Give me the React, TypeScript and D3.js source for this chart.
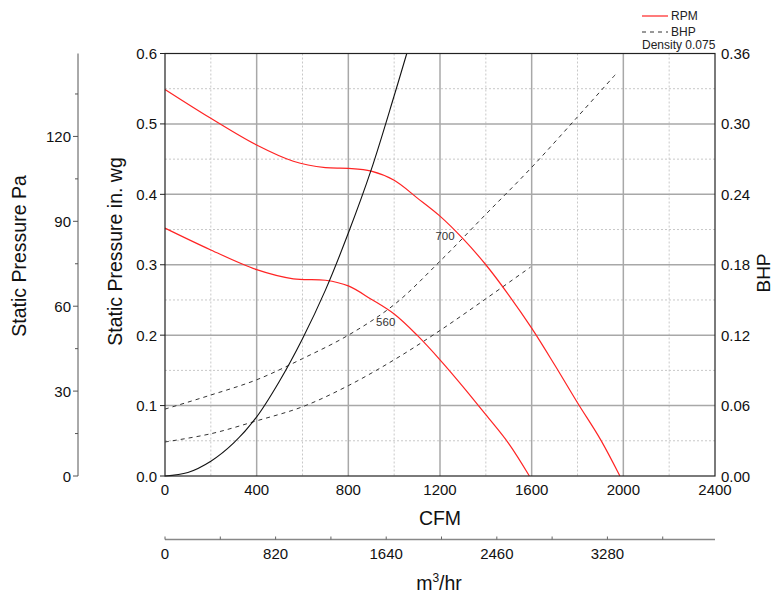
import React, { useEffect } from "react";
import * as d3 from "d3";

// ---------- data ----------
const cfmTicks = [0, 400, 800, 1200, 1600, 2000, 2400];
const cfmMinor = [200, 600, 1000, 1400, 1800, 2200];
const spTicks = [0, 0.1, 0.2, 0.3, 0.4, 0.5, 0.6];
const spMinor = [0.05, 0.15, 0.25, 0.35, 0.45, 0.55];
const bhpTicks = [0, 0.06, 0.12, 0.18, 0.24, 0.3, 0.36];
const paTicks = [0, 30, 60, 90, 120];
const paMinor = [15, 45, 75, 105, 135];
const m3hTicks = [0, 820, 1640, 2460, 3280];
const m3hMinor = [410, 1230, 2050, 2870, 3690];

// Static pressure curves (CFM, in. wg)
const rpm700: [number, number][] = [
  [0, 0.549], [200, 0.508], [400, 0.47], [560, 0.447], [700, 0.438], [800, 0.437],
  [900, 0.433], [1000, 0.42], [1100, 0.395], [1200, 0.369], [1300, 0.337],
  [1400, 0.3], [1500, 0.257], [1600, 0.21], [1700, 0.158], [1800, 0.104],
  [1900, 0.052], [1985, 0],
];
const rpm560: [number, number][] = [
  [0, 0.352], [200, 0.321], [400, 0.293], [560, 0.28], [700, 0.278], [800, 0.27],
  [900, 0.251], [1000, 0.23], [1100, 0.2], [1200, 0.165], [1300, 0.127],
  [1400, 0.087], [1500, 0.046], [1590, 0],
];
// Brake horsepower curves (CFM, BHP)
const bhp700: [number, number][] = [
  [0, 0.057], [200, 0.069], [400, 0.082], [600, 0.1], [800, 0.12], [1000, 0.146],
  [1200, 0.183], [1400, 0.223], [1600, 0.263], [1800, 0.306], [1965, 0.342],
];
const bhp560: [number, number][] = [
  [0, 0.029], [200, 0.036], [400, 0.047], [600, 0.059], [800, 0.077], [1000, 0.099],
  [1200, 0.124], [1400, 0.151], [1595, 0.178],
];
// System curve (CFM, in. wg)
const systemCurve: [number, number][] = [
  [0, 0], [100, 0.005], [200, 0.021], [300, 0.047], [400, 0.084], [500, 0.135],
  [600, 0.195], [700, 0.264], [800, 0.345], [900, 0.435], [1000, 0.54], [1055, 0.6],
];
const curveLabels = ["700", "560"];
const legendItems = ["RPM", "BHP"];
const densityText = "Density 0.075";

const FONT = "'Liberation Sans', Arial, sans-serif";

export default function App() {
  useEffect(() => {
    document.body.style.margin = "0";
  }, []);

  const L = 165, R = 715, T = 53.5, B = 476;
  const x = d3.scaleLinear().domain([0, 2400]).range([L, R]);
  const y = d3.scaleLinear().domain([0, 0.6]).range([B, T]);
  const yB = d3.scaleLinear().domain([0, 0.36]).range([B, T]);
  const yPa = d3.scaleLinear().domain([0, 0.6 * 248.84]).range([B, T]);
  const xM = d3.scaleLinear().domain([0, 2400 * 1.699]).range([L, R]);

  const smooth = d3.curveCatmullRom.alpha(0.5);
  const lineSP = d3.line<[number, number]>().x(d => x(d[0])).y(d => y(d[1])).curve(smooth);
  const lineB = d3.line<[number, number]>().x(d => x(d[0])).y(d => yB(d[1])).curve(smooth);

  const paX = 78;
  const mY = 539.5;

  return (
    <svg width={773} height={594} style={{ position: "absolute", left: 0, top: 0, background: "#fff" }}
      fontFamily={FONT}>
      <rect x={0} y={0} width={773} height={594} fill="#fff" />
      {/* minor grid */}
      {cfmMinor.map(v => (
        <line key={"vm" + v} x1={x(v)} x2={x(v)} y1={T} y2={B} stroke="#c8c8c8" strokeDasharray="2,2" />
      ))}
      {spMinor.map(v => (
        <line key={"hm" + v} x1={L} x2={R} y1={y(v)} y2={y(v)} stroke="#c8c8c8" strokeDasharray="2,2" />
      ))}
      {/* major grid */}
      {cfmTicks.slice(1, -1).map(v => (
        <line key={"vM" + v} x1={x(v)} x2={x(v)} y1={T} y2={B} stroke="#a8a8a8" strokeWidth={1.5} />
      ))}
      {spTicks.slice(1, -1).map(v => (
        <line key={"hM" + v} x1={L} x2={R} y1={y(v)} y2={y(v)} stroke="#a8a8a8" strokeWidth={1.5} />
      ))}

      {/* curves */}
      <path d={lineB(bhp700) || ""} fill="none" stroke="#333" strokeWidth={1} strokeDasharray="4,4" />
      <path d={lineB(bhp560) || ""} fill="none" stroke="#333" strokeWidth={1} strokeDasharray="4,4" />
      <path d={lineSP(rpm700) || ""} fill="none" stroke="#ff2424" strokeWidth={1.2} />
      <path d={lineSP(rpm560) || ""} fill="none" stroke="#ff2424" strokeWidth={1.2} />
      <path d={lineSP(systemCurve) || ""} fill="none" stroke="#111" strokeWidth={1.1} />

      {/* curve labels */}
      <text x={x(1222)} y={y(0.341)} fontSize={11.5} fill="#333" textAnchor="middle" dominantBaseline="central">{curveLabels[0]}</text>
      <text x={x(963)} y={y(0.219)} fontSize={11.5} fill="#333" textAnchor="middle" dominantBaseline="central">{curveLabels[1]}</text>

      {/* plot border */}
      <rect x={L} y={T} width={R - L} height={B - T} fill="none" stroke="#222" strokeWidth={1.2} />

      {/* left in.wg axis */}
      {spTicks.map(v => (
        <g key={"sp" + v}>
          <line x1={L - 5} x2={L} y1={y(v)} y2={y(v)} stroke="#222" />
          <text x={L - 8} y={y(v)} fontSize={15} textAnchor="end" dominantBaseline="central" fill="#111">{v.toFixed(1)}</text>
        </g>
      ))}
      {/* right BHP axis */}
      {bhpTicks.map(v => (
        <text key={"b" + v} x={R + 6} y={yB(v)} fontSize={15} textAnchor="start" dominantBaseline="central" fill="#111">{v.toFixed(2)}</text>
      ))}
      {/* bottom CFM axis */}
      {cfmTicks.map(v => (
        <text key={"c" + v} x={x(v)} y={489} fontSize={15} textAnchor="middle" dominantBaseline="central" fill="#111">{v}</text>
      ))}

      {/* Pa axis */}
      <line x1={paX} x2={paX} y1={T} y2={B} stroke="#555" strokeWidth={1} />
      {paTicks.map(v => (
        <g key={"pa" + v}>
          <line x1={paX - 5} x2={paX} y1={yPa(v)} y2={yPa(v)} stroke="#555" />
          <text x={paX - 7} y={yPa(v)} fontSize={15} textAnchor="end" dominantBaseline="central" fill="#111">{v}</text>
        </g>
      ))}
      {paMinor.map(v => (
        <line key={"pam" + v} x1={paX - 3} x2={paX} y1={yPa(v)} y2={yPa(v)} stroke="#555" />
      ))}

      {/* m3/hr axis */}
      <line x1={L} x2={R} y1={mY} y2={mY} stroke="#888" strokeWidth={1.5} />
      {m3hTicks.concat(m3hMinor).map(v => (
        <line key={"mt" + v} x1={xM(v)} x2={xM(v)} y1={mY - 3} y2={mY} stroke="#666" />
      ))}
      {m3hTicks.map(v => (
        <text key={"m" + v} x={xM(v)} y={553} fontSize={15} textAnchor="middle" dominantBaseline="central" fill="#111">{v}</text>
      ))}

      {/* titles */}
      <text x={440} y={525} fontSize={19.5} textAnchor="middle" fill="#111">CFM</text>
      <text x={439} y={590} fontSize={19.5} textAnchor="middle" fill="#111">
        m<tspan fontSize={12} dy={-8}>3</tspan><tspan dy={8}>/hr</tspan>
      </text>
      <text transform="translate(19,256) rotate(-90)" fontSize={19.5} textAnchor="middle" dominantBaseline="central" fill="#111">Static Pressure Pa</text>
      <text transform="translate(115,251.5) rotate(-90)" fontSize={19.5} textAnchor="middle" dominantBaseline="central" fill="#111">Static Pressure in. wg</text>
      <text transform="translate(763,273) rotate(-90)" fontSize={19} textAnchor="middle" dominantBaseline="central" fill="#111">BHP</text>

      {/* legend */}
      <line x1={642} x2={668} y1={16} y2={16} stroke="#ff2424" strokeWidth={1.2} />
      <text x={671} y={16} fontSize={12} dominantBaseline="central" fill="#222">{legendItems[0]}</text>
      <line x1={642} x2={668} y1={32} y2={32} stroke="#333" strokeDasharray="4,4" />
      <text x={671} y={32} fontSize={12} dominantBaseline="central" fill="#222">{legendItems[1]}</text>
      <text x={642} y={48.5} fontSize={12} fill="#222">{densityText}</text>
    </svg>
  );
}
